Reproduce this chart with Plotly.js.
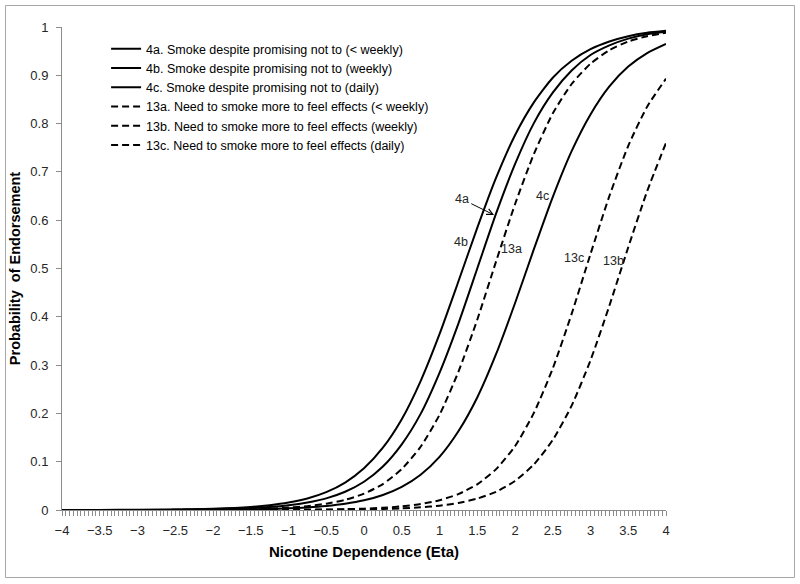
<!DOCTYPE html>
<html>
<head>
<meta charset="utf-8">
<script src="https://cdn.plot.ly/plotly-3.0.1.min.js"></script>
<style>html,body{margin:0;padding:0;background:#fff;}#chart{width:800px;height:584px;}</style>
</head>
<body>
<div id="chart"></div>
<script>
// Eta (x) values
var eta = [-4,-3.5,-3,-2.5,-2,-1.5,-1.25,-1,-0.75,-0.5,-0.25,0,0.25,0.5,0.75,1,1.25,1.5,1.75,2,2.25,2.5,2.75,3,3.25,3.5,3.75,4];

// Probability of endorsement
var p4a  = [0.0001,0.0002,0.0004,0.001,0.0026,0.0063,0.0099,0.0154,0.0239,0.0370,0.0568,0.0863,0.129,0.188,0.267,0.364,0.473,0.584,0.688,0.776,0.844,0.895,0.930,0.954,0.970,0.981,0.988,0.992];
var p4b  = [0,0.0001,0.0002,0.0006,0.0015,0.0039,0.0061,0.0097,0.0154,0.0241,0.0377,0.0584,0.090,0.136,0.199,0.284,0.386,0.5,0.614,0.716,0.801,0.864,0.910,0.942,0.962,0.976,0.985,0.990];
var p4c  = [0,0,0.0001,0.0002,0.0006,0.0014,0.0022,0.0034,0.0053,0.0083,0.0129,0.0200,0.0311,0.0479,0.0731,0.110,0.163,0.233,0.323,0.428,0.540,0.648,0.743,0.819,0.877,0.918,0.946,0.965];
var p13a = [0,0,0.0001,0.0003,0.0007,0.0019,0.0031,0.0050,0.0080,0.0130,0.0210,0.0338,0.0537,0.0848,0.131,0.197,0.286,0.394,0.515,0.633,0.737,0.821,0.882,0.924,0.952,0.970,0.981,0.988];
var p13b = [0,0,0,0,0,0.0001,0.0001,0.0002,0.0003,0.0005,0.0008,0.0013,0.0021,0.0034,0.0055,0.0090,0.0146,0.0236,0.0378,0.0601,0.0943,0.145,0.216,0.310,0.423,0.544,0.660,0.760];
var p13c = [0,0,0,0,0.0001,0.0001,0.0002,0.0004,0.0006,0.0010,0.0017,0.0028,0.0046,0.0075,0.0124,0.0202,0.0329,0.0532,0.0847,0.132,0.201,0.293,0.406,0.530,0.650,0.754,0.835,0.893];

var seriesNames = [
  "4a. Smoke despite promising not to (< weekly)",
  "4b. Smoke despite promising not to (weekly)",
  "4c. Smoke despite promising not to (daily)",
  "13a. Need to smoke more to feel effects (< weekly)",
  "13b. Need to smoke more to feel effects (weekly)",
  "13c. Need to smoke more to feel effects (daily)"
];
var seriesValues = [p4a, p4b, p4c, p13a, p13b, p13c];
var seriesDash = ["solid","solid","solid","7px,4px","7px,4px","7px,4px"];

// curve labels
var labelText = ["4a","4b","13a","4c","13c","13b"];
var labelX = [1.294,1.281,1.956,2.362,2.781,3.302];
var labelY = [0.644,0.555,0.540,0.650,0.522,0.516];

var traces = seriesValues.map(function(v,i){
  return {
    x: eta, y: v, name: seriesNames[i], type: "scatter", mode: "lines",
    line: {color: "#000000", width: 2, dash: seriesDash[i], shape: "spline", smoothing: 0.6}
  };
});

var annotations = labelText.map(function(t,i){
  return {x: labelX[i], y: labelY[i], xref: "x", yref: "y", text: t, showarrow: false,
          font: {family: "Liberation Sans, Arial, sans-serif", size: 12.5, color: "#262626"}};
});
// arrow for 4a
annotations.push({x: 1.722, y: 0.611, xref: "x", yref: "y", ax: 1.294, ay: 0.644, axref: "x", ayref: "y",
  text: "", showarrow: true, arrowhead: 5, arrowsize: 1.2, arrowwidth: 1, arrowcolor: "#000", standoff: 0, startstandoff: 9});

var layout = {
  width: 800, height: 584,
  margin: {l: 62, r: 134, t: 27, b: 74},
  paper_bgcolor: "#ffffff", plot_bgcolor: "#ffffff",
  font: {family: "Liberation Sans, Arial, sans-serif", size: 12, color: "#262626"},
  showlegend: true,
  legend: {x: 0.073, y: 0.985, xanchor: "left", yanchor: "top", bgcolor: "rgba(0,0,0,0)",
           font: {size: 12.5, color: "#000"}, itemwidth: 30, tracegroupgap: 0},
  xaxis: {
    range: [-4, 4], tickmode: "linear", tick0: -4, dtick: 0.5,
    ticks: "outside", ticklen: 5, tickcolor: "#8c8c8c", tickwidth: 1, ticklabelstandoff: 3,
    minor: {tickmode: "linear", dtick: 0.05, ticks: "outside", ticklen: 5, tickcolor: "#8c8c8c", tickwidth: 1, showgrid: false},
    showline: true, linecolor: "#8c8c8c", linewidth: 1, showgrid: false, zeroline: false,
    tickfont: {size: 13, color: "#262626"},
    title: {text: "<b>Nicotine Dependence (Eta)</b>", font: {size: 15, color: "#000"}, standoff: 9}
  },
  yaxis: {
    range: [0, 1], tickmode: "linear", tick0: 0, dtick: 0.1,
    ticks: "outside", ticklen: 5, tickcolor: "#8c8c8c", tickwidth: 1, ticklabelstandoff: 5,
    showline: true, linecolor: "#8c8c8c", linewidth: 1, showgrid: false, zeroline: false,
    tickfont: {size: 13, color: "#262626"},
    title: {text: "<b>Probability  of Endorsement</b>", font: {size: 14.5, color: "#000"}, standoff: 6}
  },
  annotations: annotations,
  shapes: [{type: "rect", xref: "paper", yref: "paper", x0: -0.0935, x1: 1.2127, y0: -0.1398, y1: 1.0445,
            line: {color: "#a6a6a6", width: 1}, fillcolor: "rgba(0,0,0,0)", layer: "below"}]
};

Plotly.newPlot("chart", traces, layout, {staticPlot: true, displayModeBar: false});
</script>
</body>
</html>
